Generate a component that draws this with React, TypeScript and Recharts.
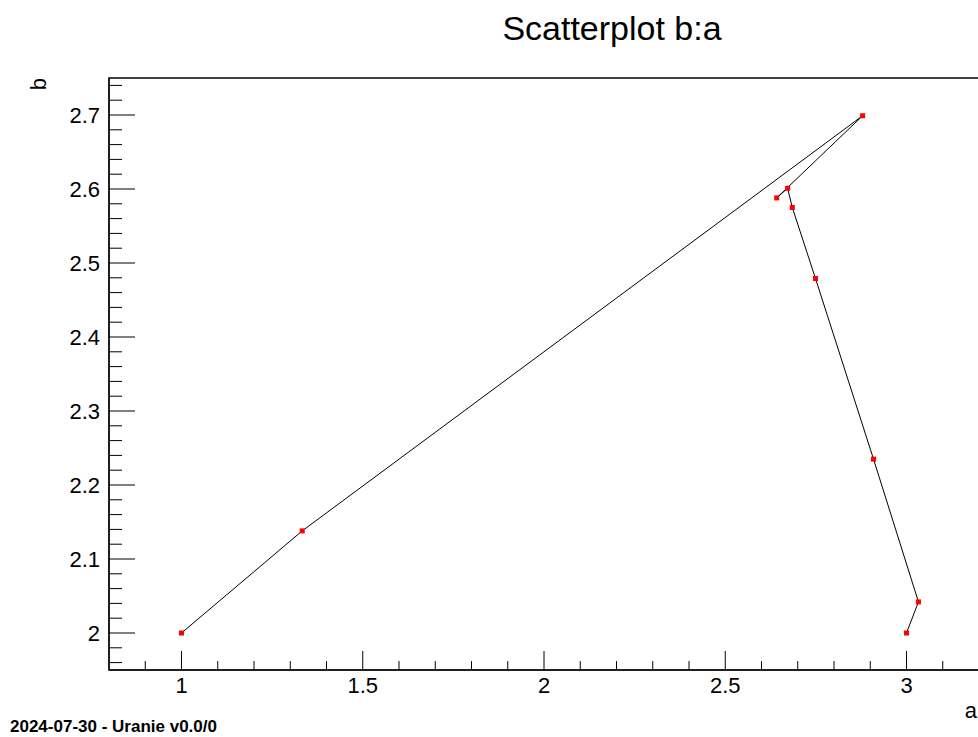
import * as React from "react";
import {
  ScatterChart,
  Scatter,
  XAxis,
  YAxis,
  ReferenceArea,
} from "recharts";

// Point coordinates (in drawing order)
const aValues = [1.0, 1.333, 2.879, 2.642, 2.672, 2.685, 2.749, 2.909, 3.033, 3.0];
const bValues = [2.0, 2.138, 2.699, 2.588, 2.601, 2.575, 2.479, 2.235, 2.042, 2.0];

// Axis ticks
const xMajorTicks = [1, 1.5, 2, 2.5, 3];
const xMinorTicks = [
  0.9, 1.1, 1.2, 1.3, 1.4, 1.6, 1.7, 1.8, 1.9, 2.1, 2.2, 2.3, 2.4, 2.6, 2.7,
  2.8, 2.9, 3.1,
];
const yMajorTicks = [2, 2.1, 2.2, 2.3, 2.4, 2.5, 2.6, 2.7];
const yMinorTicks = [
  1.96, 1.98, 2.02, 2.04, 2.06, 2.08, 2.12, 2.14, 2.16, 2.18, 2.22, 2.24, 2.26,
  2.28, 2.32, 2.34, 2.36, 2.38, 2.42, 2.44, 2.46, 2.48, 2.52, 2.54, 2.56, 2.58,
  2.62, 2.64, 2.66, 2.68, 2.72, 2.74,
];

const xDomain = [0.8, 3.2];
const yDomain = [1.95, 2.75];

const FONT = "'Liberation Sans', Arial, Helvetica, sans-serif";

const points = aValues.map((a, i) => ({ a, b: bValues[i] }));

// ROOT-style ticks: drawn inside the frame, long for major, short for minor
const XTick = (props: any) => {
  const { x, y, payload } = props;
  const major = xMajorTicks.includes(payload.value);
  return (
    <g>
      <line x1={x} x2={x} y1={y} y2={y - (major ? 19 : 9)} stroke="#000" />
      {major && (
        <text
          x={x}
          y={y + 23}
          textAnchor="middle"
          fontSize={22}
          fontFamily={FONT}
          fill="#000"
        >
          {String(payload.value)}
        </text>
      )}
    </g>
  );
};

const YTick = (props: any) => {
  const { x, y, payload } = props;
  const major = yMajorTicks.includes(payload.value);
  return (
    <g>
      <line x1={x} x2={x + (major ? 26 : 13)} y1={y} y2={y} stroke="#000" />
      {major && (
        <text
          x={x - 9}
          y={y + 7.5}
          textAnchor="end"
          fontSize={22}
          fontFamily={FONT}
          fill="#000"
        >
          {String(payload.value)}
        </text>
      )}
    </g>
  );
};

const RedSquare = (props: any) => {
  const { cx, cy } = props;
  return <rect x={cx - 2.5} y={cy - 2.5} width={5} height={5} fill="#ff0000" />;
};

export default function App() {
  return (
    <div
      style={{
        position: "absolute",
        left: 0,
        top: 0,
        width: 978,
        height: 737,
        overflow: "hidden",
        background: "#fff",
      }}
    >
      <ScatterChart
        width={990}
        height={737}
        margin={{ top: 78, right: 11, bottom: 27, left: 49 }}
      >
        <XAxis
          type="number"
          dataKey="a"
          domain={xDomain}
          allowDataOverflow
          ticks={[...xMajorTicks, ...xMinorTicks]}
          interval={0}
          tick={XTick}
          tickLine={false}
          tickSize={0}
          tickMargin={0}
          height={40}
          axisLine={{ stroke: "#000" }}
        />
        <YAxis
          type="number"
          dataKey="b"
          domain={yDomain}
          allowDataOverflow
          ticks={[...yMajorTicks, ...yMinorTicks]}
          interval={0}
          tick={YTick}
          tickLine={false}
          tickSize={0}
          tickMargin={0}
          width={60}
          axisLine={{ stroke: "#000" }}
        />
        <ReferenceArea
          x1={xDomain[0]}
          x2={xDomain[1]}
          y1={yDomain[0]}
          y2={yDomain[1]}
          fill="none"
          stroke="#000"
          strokeWidth={1.5}
        />
        <Scatter
          data={points}
          dataKey="b"
          line={{ stroke: "#000", strokeWidth: 1 }}
          shape={RedSquare}
          isAnimationActive={false}
        />
      </ScatterChart>
      <svg
        width={978}
        height={737}
        style={{ position: "absolute", left: 0, top: 0, pointerEvents: "none" }}
      >
        <text x={612} y={40} textAnchor="middle" fontSize={34} fontFamily={FONT} fill="#000">
          Scatterplot b:a
        </text>
        <text
          transform="translate(46,78) rotate(-90)"
          textAnchor="end"
          fontSize={22}
          fontFamily={FONT}
          fill="#000"
        >
          b
        </text>
        <text x={977} y={718} textAnchor="end" fontSize={22} fontFamily={FONT} fill="#000">
          a
        </text>
        <text x={10} y={732} fontSize={17} fontWeight="bold" fontFamily={FONT} fill="#000">
          2024-07-30 - Uranie v0.0/0
        </text>
      </svg>
    </div>
  );
}
